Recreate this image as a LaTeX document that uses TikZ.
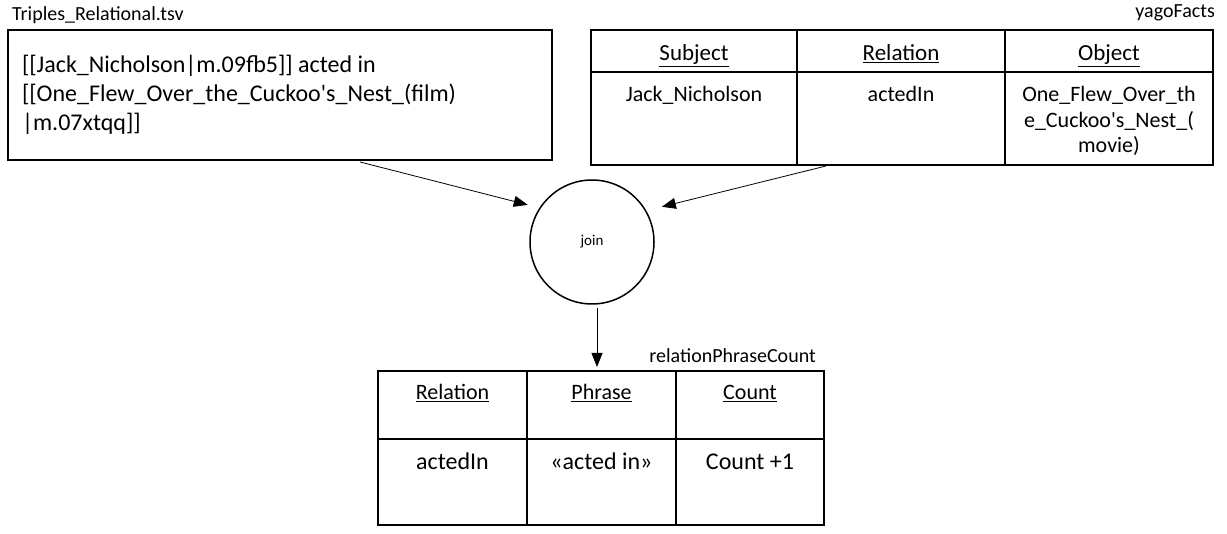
\documentclass[tikz,border=0pt]{standalone}
\usepackage{fontspec}
\setmainfont{Carlito}
\usetikzlibrary{arrows.meta,positioning}

\begin{document}
\begin{tikzpicture}[x=1pt,y=-1pt,
		cell/.style={draw, line width=1.5pt, anchor=north west, inner sep=0pt, outer sep=0pt},
		lbl/.style={font=\fontsize{20}{24}\selectfont, inner sep=0pt},
		hdr/.style={font=\fontsize{23}{28}\selectfont, inner sep=0pt, anchor=base},
		txt/.style={font=\fontsize{22}{25.5}\selectfont, inner sep=0pt, anchor=base, align=center},
		flow/.style={-{Triangle[length=14pt,width=11pt]}, line width=0.8pt}]
	\useasboundingbox (0,0) rectangle (1227,534);

	% Source file
	\node[cell, minimum width=544pt, minimum height=130pt, text width=516pt, inner xsep=14pt, align=flush left, font=\fontsize{24}{29}\selectfont] (src) at (8,30)
		{{}[[Jack\_Nicholson|m.09fb5]] acted in\\{}[[One\_Flew\_Over\_the\_Cuckoo\textquotesingle s\_Nest\_(film)\\{}|m.07xtqq]]};
	\node[lbl, anchor=base west] (src-lbl) at ([xshift=4pt, yshift=9pt]src.north west) {Triples\_Relational.tsv};

	% yagoFacts table
	\node[cell, minimum width=206pt, minimum height=42pt] (yf-h1) at (591,30) {};
	\node[cell, minimum width=208pt, minimum height=42pt] (yf-h2) at (797,30) {};
	\node[cell, minimum width=208pt, minimum height=42pt] (yf-h3) at (1005,30) {};
	\node[cell, minimum width=206pt, minimum height=93pt] (yf-d1) at (591,72) {};
	\node[cell, minimum width=208pt, minimum height=93pt] (yf-d2) at (797,72) {};
	\node[cell, minimum width=208pt, minimum height=93pt] (yf-d3) at (1005,72) {};
	\node[hdr] (yf-s) at ([yshift=-31pt]yf-h1.north) {\underline{Subject}};
	\node[hdr] (yf-r) at ([yshift=-31pt]yf-h2.north) {\underline{Relation}};
	\node[hdr] (yf-o) at ([yshift=-31pt]yf-h3.north) {\underline{Object}};
	\node[txt] (yf-t1) at ([yshift=-30pt]yf-d1.north) {Jack\_Nicholson};
	\node[txt] (yf-t2) at ([yshift=-30pt]yf-d2.north) {actedIn};
	\node[txt] (yf-t3) at ([yshift=-81pt]yf-d3.north) {One\_Flew\_Over\_th\\e\_Cuckoo\textquotesingle s\_Nest\_(\\movie)};
	\node[lbl, anchor=base east] (yf-lbl) at ([xshift=2pt, yshift=12pt]yf-h3.north east) {yagoFacts};

	% Join
	\node[circle, draw, line width=1.5pt, minimum size=124pt, inner sep=0pt, font=\fontsize{15}{18}\selectfont] (join) at (592,242) {join};

	% relationPhraseCount table
	\node[cell, minimum width=149pt, minimum height=68pt] (rpc-h1) at (378,371) {};
	\node[cell, minimum width=149pt, minimum height=68pt] (rpc-h2) at (527,371) {};
	\node[cell, minimum width=148pt, minimum height=68pt] (rpc-h3) at (676,371) {};
	\node[cell, minimum width=149pt, minimum height=86pt] (rpc-d1) at (378,439) {};
	\node[cell, minimum width=149pt, minimum height=86pt] (rpc-d2) at (527,439) {};
	\node[cell, minimum width=148pt, minimum height=86pt] (rpc-d3) at (676,439) {};
	\node[txt] (rpc-t1) at ([yshift=-29pt]rpc-h1.north) {\underline{Relation}};
	\node[txt] (rpc-t2) at ([yshift=-29pt]rpc-h2.north) {\underline{Phrase}};
	\node[txt] (rpc-t3) at ([yshift=-29pt]rpc-h3.north) {\underline{Count}};
	\node[txt, font=\fontsize{24}{29}\selectfont] (rpc-v1) at ([yshift=-31pt]rpc-d1.north) {actedIn};
	\node[txt, font=\fontsize{24}{29}\selectfont] (rpc-v2) at ([yshift=-31pt]rpc-d2.north) {«acted in»};
	\node[txt, font=\fontsize{24}{29}\selectfont] (rpc-v3) at ([yshift=-31pt]rpc-d3.north) {Count +1};
	\node[lbl, anchor=base east] (rpc-lbl) at ([xshift=-8pt, yshift=8pt]rpc-h3.north east) {relationPhraseCount};

	% Arrows
	\draw[flow, shorten >=12pt] ([xshift=80pt, yshift=-2pt]src.south) -- (join.147);
	\draw[flow, shorten >=16pt] ([xshift=-75pt, yshift=-1pt]yf-d2.south) -- (join.30);
	\draw[flow] ([xshift=5pt, yshift=-3pt]join.south) -- ([xshift=-4.5pt, yshift=4pt]rpc-h2.north);
\end{tikzpicture}
\end{document}
